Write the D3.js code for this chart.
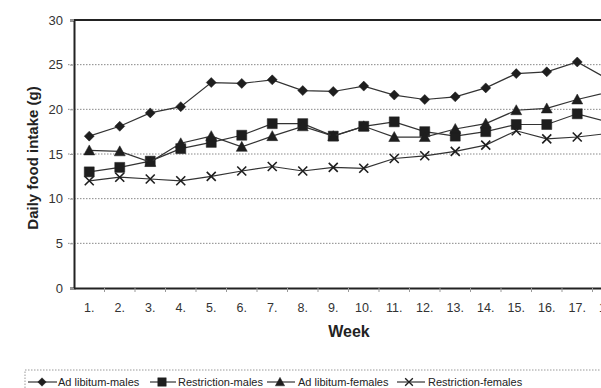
<!DOCTYPE html>
<html><head><meta charset="utf-8">
<script src="https://cdn.jsdelivr.net/npm/d3@7"></script>
<style>body{margin:0;background:#fff;} svg{display:block;font-family:"Liberation Sans",Arial,sans-serif;}</style>
</head><body>
<svg id="c" width="601" height="388"></svg>
<script>
const weeks = ["1.","2.","3.","4.","5.","6.","7.","8.","9.","10.","11.","12.","13.","14.","15.","16.","17.","18."];
const adLibitumMales = [17.0,18.1,19.6,20.3,23.0,22.9,23.3,22.1,22.0,22.6,21.6,21.1,21.4,22.4,24.0,24.2,25.3,23.4];
const restrictionMales = [13.0,13.5,14.2,15.6,16.3,17.1,18.4,18.4,17.0,18.1,18.6,17.5,17.0,17.5,18.3,18.3,19.5,18.6];
const adLibitumFemales = [15.4,15.3,14.1,16.2,17.0,15.8,17.0,18.1,17.0,18.1,16.9,16.9,17.8,18.4,19.9,20.1,21.1,21.9];
const restrictionFemales = [12.0,12.4,12.2,12.0,12.5,13.1,13.6,13.1,13.5,13.4,14.5,14.8,15.3,16.0,17.6,16.7,16.9,17.3];
const yTicks = [0,5,10,15,20,25,30];
const seriesNames = ["Ad libitum-males","Restriction-males","Ad libitum-females","Restriction-females"];
const seriesValues = [adLibitumMales,restrictionMales,adLibitumFemales,restrictionFemales];
const markers = ["diamond","square","triangle","x"];

const svg = d3.select("#c");
const pLeft = 74, pTop = 20, pBottom = 288, step = 30.5;
const pRight = pLeft + step*weeks.length;
const x = d3.scaleBand().domain(weeks).range([pLeft, pRight]).padding(0);
const y = d3.scaleLinear().domain([0,30]).range([pBottom, pTop]);
const cx = w => x(w) + x.bandwidth()/2;

function markerPath(t){
  if(t==="diamond") return "M0,-5L5,0L0,5L-5,0Z";
  if(t==="square") return "M-5,-5H5V5H-5Z";
  if(t==="triangle") return "M0,-5.5L5.5,4.5H-5.5Z";
  return "M-4.5,-4.5L4.5,4.5M-4.5,4.5L4.5,-4.5";
}

// grid
svg.append("g").selectAll("line").data(yTicks.filter(d=>d>0&&d<30)).join("line")
  .attr("x1",pLeft-6).attr("x2",pRight)
  .attr("y1",d=>y(d)).attr("y2",d=>y(d))
  .attr("stroke","#888").attr("stroke-width",1).attr("stroke-dasharray","1.5,1.5");
// top border
svg.append("line").attr("x1",pLeft).attr("x2",pRight).attr("y1",y(30)).attr("y2",y(30))
  .attr("stroke","#222").attr("stroke-width",2);

// y axis
const ya = d3.axisLeft(y).tickValues(yTicks).tickSize(4).tickFormat(d3.format("d"));
const yg = svg.append("g").attr("transform",`translate(${pLeft},0)`).call(ya);
yg.select(".domain").attr("stroke","#222").attr("stroke-width",2);
yg.selectAll(".tick line").attr("stroke","#999");
yg.selectAll(".tick text").attr("font-size",13).attr("fill","#333").attr("x",-11);

// x axis
const xa = d3.axisBottom(x).tickSize(0).tickPadding(12);
const xg = svg.append("g").attr("transform",`translate(0,${pBottom})`).call(xa);
xg.select(".domain").attr("stroke","#222").attr("stroke-width",2);
xg.selectAll(".tick text").attr("font-size",12.5).attr("fill","#333").attr("dy","0").attr("y",24);
svg.append("g").selectAll("line").data(weeks.slice(1)).join("line")
  .attr("x1",d=>x(d)).attr("x2",d=>x(d)).attr("y1",pBottom).attr("y2",pBottom+4)
  .attr("stroke","#999");

// titles
svg.append("text").attr("x",349).attr("y",337).attr("text-anchor","middle")
  .attr("font-size",16).attr("font-weight","bold").attr("fill","#222").text("Week");
svg.append("text").attr("transform","translate(38,158) rotate(-90)").attr("text-anchor","middle")
  .attr("font-size",15).attr("font-weight","bold").attr("fill","#222").text("Daily food intake (g)");

// series
const line = d3.line().x((d,i)=>cx(weeks[i])).y(d=>y(d));
seriesValues.forEach((vals,k)=>{
  svg.append("path").attr("d",line(vals)).attr("fill","none").attr("stroke","#333").attr("stroke-width",1.2);
  svg.append("g").selectAll("path").data(vals).join("path")
    .attr("transform",(d,i)=>`translate(${cx(weeks[i])},${y(d)})`)
    .attr("d",markerPath(markers[k]))
    .attr("fill",markers[k]==="x"?"none":"#1e1e1e")
    .attr("stroke","#1e1e1e").attr("stroke-width",markers[k]==="x"?1.6:0.5);
});

// legend
svg.append("rect").attr("x",25).attr("y",370).attr("width",600).attr("height",30)
  .attr("fill","none").attr("stroke","#999").attr("stroke-dasharray","1.5,1.5");
const legLine = [[28,57],[150,176],[267,295],[397,425]];
const legSym = [42,162,280,409];
const legText = [58,178,298,428];
seriesNames.forEach((n,k)=>{
  const g = svg.append("g").attr("transform",`translate(0,382)`);
  g.append("line").attr("x1",legLine[k][0]).attr("x2",legLine[k][1]).attr("y1",0).attr("y2",0).attr("stroke","#333").attr("stroke-width",1.2);
  g.append("path").attr("transform",`translate(${legSym[k]},0) scale(0.85)`).attr("d",markerPath(markers[k]))
    .attr("fill",markers[k]==="x"?"none":"#1e1e1e").attr("stroke","#1e1e1e").attr("stroke-width",markers[k]==="x"?1.6:0.5);
  g.append("text").attr("x",legText[k]).attr("y",4).attr("font-size",11).attr("fill","#222").text(n);
});
</script>
</body></html>
